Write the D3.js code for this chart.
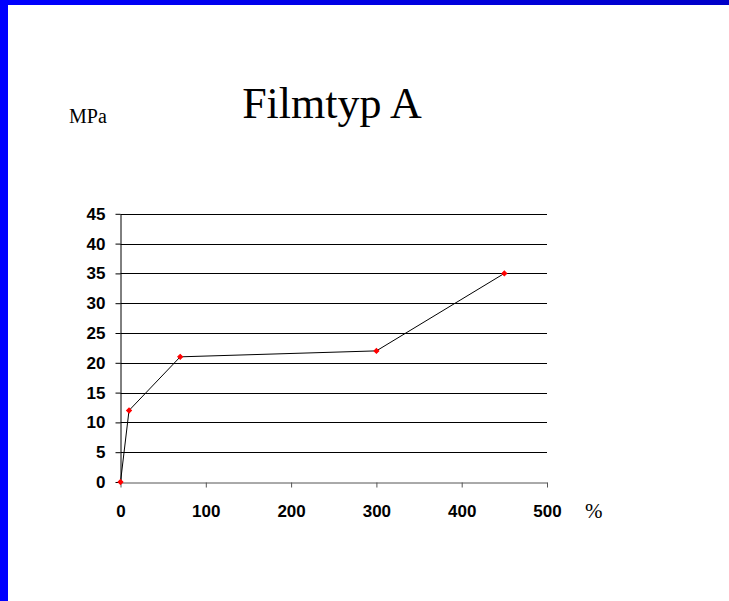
<!DOCTYPE html>
<html>
<head>
<meta charset="utf-8">
<script src="https://cdn.jsdelivr.net/npm/d3@7"></script>
<style>
  html, body { margin: 0; padding: 0; background: #fff; }
  svg { display: block; }
</style>
</head>
<body>
<svg id="chart" width="729" height="601"></svg>
<script>
// Elongation (%) vs. stress (MPa) for film type A
const elongation = [0, 10, 70, 300, 450];
const stress = [0, 12, 21, 22, 35];
const xTicks = [0, 100, 200, 300, 400, 500];
const yTicks = [0, 5, 10, 15, 20, 25, 30, 35, 40, 45];
const titleText = "Filmtyp A";
const yUnit = "MPa";
const xUnit = "%";

const svg = d3.select("#chart");
const W = 729, H = 601;

// slide frame: blue bands on top and left
const defs = svg.append("defs");
const grad = defs.append("linearGradient").attr("id", "topband").attr("x1", 0).attr("x2", 1);
grad.append("stop").attr("offset", 0).attr("stop-color", "#0000ff");
grad.append("stop").attr("offset", 1).attr("stop-color", "#0000c8");
svg.append("rect").attr("x", 0).attr("y", 0).attr("width", W).attr("height", 5).attr("fill", "url(#topband)");
svg.append("rect").attr("x", 0).attr("y", 0).attr("width", 8).attr("height", H).attr("fill", "#0000ff");

const x = d3.scaleLinear().domain([0, 500]).range([120.5, 547]);
const y = d3.scaleLinear().domain([0, 45]).range([482, 213.8]);

const tickFont = "'Liberation Sans', Arial, sans-serif";

// horizontal gridlines
svg.append("g").selectAll("line").data(yTicks.filter(v => v > 0)).join("line")
  .attr("x1", x(0)).attr("x2", x(500))
  .attr("y1", d => Math.round(y(d)) + 0.5).attr("y2", d => Math.round(y(d)) + 0.5)
  .attr("stroke", "#000").attr("stroke-width", 1);

// y axis
const yAxis = svg.append("g").attr("transform", `translate(${Math.round(x(0)) - 0.5},0)`)
  .call(d3.axisLeft(y).tickValues(yTicks).tickSize(5).tickPadding(10).tickSizeOuter(0));
yAxis.select(".domain").attr("stroke", "#000");
yAxis.selectAll(".tick line").attr("stroke", "#000");
yAxis.selectAll(".tick text")
  .attr("font-family", tickFont)
  .attr("font-weight", "bold").attr("font-size", 17).attr("fill", "#000");

// x axis
const xAxis = svg.append("g").attr("transform", `translate(0,${Math.round(y(0)) + 0.5})`)
  .call(d3.axisBottom(x).tickValues(xTicks).tickSize(5).tickPadding(17).tickSizeOuter(0));
xAxis.select(".domain").attr("stroke", "#555");
xAxis.selectAll(".tick line").attr("stroke", "#555");
xAxis.selectAll(".tick text")
  .attr("font-family", tickFont)
  .attr("font-weight", "bold").attr("font-size", 17).attr("fill", "#000");

// data line
const pts = elongation.map((e, i) => [e, stress[i]]);
svg.append("path").datum(pts)
  .attr("d", d3.line().x(d => x(d[0])).y(d => y(d[1])))
  .attr("fill", "none").attr("stroke", "#000").attr("stroke-width", 1);

// markers: small red diamonds
svg.append("g").selectAll("path").data(pts).join("path")
  .attr("transform", d => `translate(${x(d[0])},${y(d[1])}) rotate(45)`)
  .attr("d", d3.symbol().type(d3.symbolSquare).size(12))
  .attr("fill", "#ff0000").attr("stroke", "#ff0000").attr("stroke-width", 1);

// title and unit labels
svg.append("text").attr("x", 332).attr("y", 118).attr("text-anchor", "middle")
  .attr("font-family", "'Liberation Serif', 'Times New Roman', serif")
  .attr("font-size", 44).attr("fill", "#000").text(titleText);
svg.append("text").attr("x", 69).attr("y", 123)
  .attr("font-family", "'Liberation Serif', 'Times New Roman', serif")
  .attr("font-size", 20).attr("fill", "#000").text(yUnit);
svg.append("text").attr("x", 585).attr("y", 518)
  .attr("font-family", "'Liberation Serif', 'Times New Roman', serif")
  .attr("font-size", 21).attr("fill", "#000").text(xUnit);
</script>
</body>
</html>
